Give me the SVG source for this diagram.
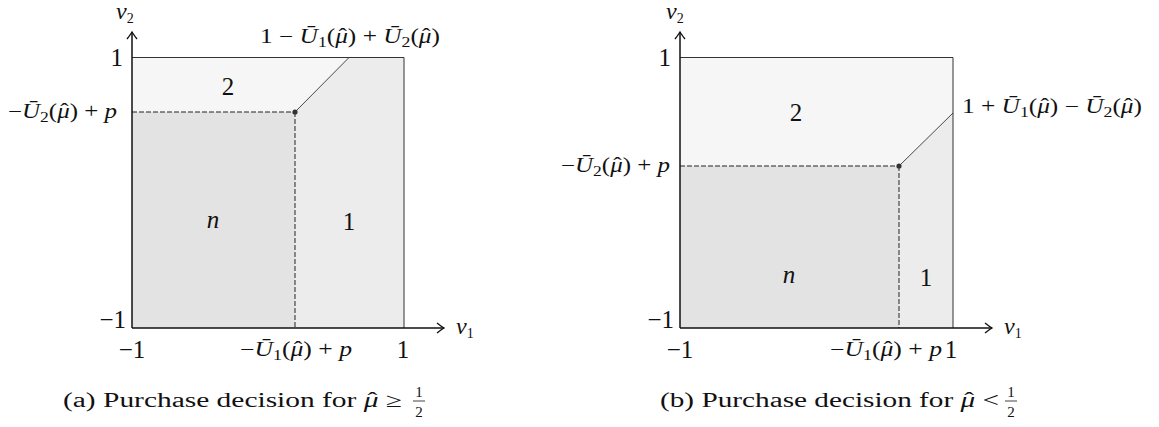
<svg xmlns="http://www.w3.org/2000/svg" width="1159" height="427" viewBox="0 0 1159 427">
<style>
.t{font-family:"Liberation Serif","DejaVu Serif",serif;fill:#111}
.i{font-style:italic}
.big{font-size:25px}
.nu{font-size:24px}
.f{font-size:20px}
.cap{font-size:20px}
.fr{font-size:15px}
.sub{font-size:14px;font-style:normal}
.axis{stroke:#111;stroke-width:1.5;fill:none}
.edge{stroke:#333;stroke-width:1;fill:none}
.dash{stroke:#222;stroke-width:1;stroke-dasharray:5 2;fill:none}
.diag{stroke:#333;stroke-width:0.9;fill:none}
.rn{fill:#e3e3e3}
.r1{fill:#ececec}
.r2{fill:#f6f6f6}
.dot{fill:#333}
</style>
<defs>
<marker id="arr" viewBox="-10 -7 12 14" markerWidth="12" markerHeight="14" refX="0" refY="0" orient="auto" markerUnits="userSpaceOnUse">
<path d="M-7,-5 Q-2,-1.2 0,0 Q-2,1.2 -7,5" fill="none" stroke="#111" stroke-width="1.4"/>
</marker>
</defs>

<!-- Plot (a) -->
<g id="plotA">
<g id="a-region-n"><rect class="rn" x="132" y="112" width="163" height="216"/><text class="t i big" x="213" y="228" text-anchor="middle">n</text></g>
<g id="a-region-1"><polygon class="r1" points="295,328 295,112 349,57.5 404,57.5 404,328"/><text class="t big" x="349" y="230" text-anchor="middle">1</text></g>
<g id="a-region-2"><polygon class="r2" points="132,57.5 349,57.5 295,112 132,112"/><text class="t big" x="228" y="95" text-anchor="middle">2</text></g>
<g id="a-connectors">
<line class="edge" x1="132" y1="57.5" x2="404" y2="57.5"/>
<line class="edge" x1="404" y1="57.5" x2="404" y2="328"/>
<line class="dash" x1="132" y1="112" x2="295" y2="112"/>
<line class="dash" x1="295" y1="112" x2="295" y2="328"/>
<line class="diag" x1="295" y1="112" x2="349" y2="57.5"/>
<line class="axis" x1="132" y1="328" x2="132" y2="32" marker-end="url(#arr)"/>
<line class="axis" x1="132" y1="328" x2="444" y2="328" marker-end="url(#arr)"/>
</g>
<g id="a-point"><circle class="dot" cx="295" cy="112" r="2.6"/></g>
<g id="a-labels">
<text class="t i nu" x="116" y="19">ν<tspan class="sub" dy="4">2</tspan></text>
<text class="t i nu" x="456" y="334">ν<tspan class="sub" dy="4">1</tspan></text>
<text class="t big" x="123" y="66" text-anchor="end">1</text>
<text class="t big" x="126" y="328" text-anchor="end">−1</text>
<text class="t big" x="132" y="358" text-anchor="middle">−1</text>
<text class="t big" x="403" y="358" text-anchor="middle">1</text>
<text class="t f" x="8" y="118" textLength="109" lengthAdjust="spacingAndGlyphs">−<tspan class="i">Ū</tspan><tspan class="sub" dy="4">2</tspan><tspan dy="-4">(</tspan><tspan class="i">μ</tspan><tspan dx="-7.5">ˆ</tspan><tspan dx="0.8">) + </tspan><tspan class="i">p</tspan></text>
<text class="t f" x="240" y="356" textLength="112" lengthAdjust="spacingAndGlyphs">−<tspan class="i">Ū</tspan><tspan class="sub" dy="4">1</tspan><tspan dy="-4">(</tspan><tspan class="i">μ</tspan><tspan dx="-7.5">ˆ</tspan><tspan dx="0.8">) + </tspan><tspan class="i">p</tspan></text>
<text class="t f" x="260" y="43" textLength="180" lengthAdjust="spacingAndGlyphs">1 − <tspan class="i">Ū</tspan><tspan class="sub" dy="4">1</tspan><tspan dy="-4">(</tspan><tspan class="i">μ</tspan><tspan dx="-7.5">ˆ</tspan><tspan dx="0.8">) + </tspan><tspan class="i">Ū</tspan><tspan class="sub" dy="4">2</tspan><tspan dy="-4">(</tspan><tspan class="i">μ</tspan><tspan dx="-7.5">ˆ</tspan><tspan dx="0.8">)</tspan></text>
</g>
<g id="a-caption">
<text class="t cap" x="63" y="407" textLength="339" lengthAdjust="spacingAndGlyphs">(a) Purchase decision for <tspan class="i">μ</tspan><tspan dx="-7.5">ˆ</tspan><tspan dx="0.8"> ≥</tspan></text>
<text class="t fr" x="419" y="397" text-anchor="middle">1</text>
<line x1="413" y1="401" x2="425" y2="401" stroke="#111" stroke-width="0.8"/>
<text class="t fr" x="419" y="417" text-anchor="middle">2</text>
</g>
</g>

<!-- Plot (b) -->
<g id="plotB">
<g id="b-region-n"><rect class="rn" x="680" y="166" width="219" height="162"/><text class="t i big" x="789" y="283" text-anchor="middle">n</text></g>
<g id="b-region-1"><polygon class="r1" points="899,328 899,166 953,113 953,328"/><text class="t big" x="926" y="286" text-anchor="middle">1</text></g>
<g id="b-region-2"><polygon class="r2" points="680,57.5 953,57.5 953,113 899,166 680,166"/><text class="t big" x="796" y="121" text-anchor="middle">2</text></g>
<g id="b-connectors">
<line class="edge" x1="680" y1="57.5" x2="953" y2="57.5"/>
<line class="edge" x1="953" y1="57.5" x2="953" y2="328"/>
<line class="dash" x1="680" y1="166" x2="899" y2="166"/>
<line class="dash" x1="899" y1="166" x2="899" y2="328"/>
<line class="diag" x1="899" y1="166" x2="953" y2="113"/>
<line class="axis" x1="680" y1="328" x2="680" y2="32" marker-end="url(#arr)"/>
<line class="axis" x1="680" y1="328" x2="992" y2="328" marker-end="url(#arr)"/>
</g>
<g id="b-point"><circle class="dot" cx="899" cy="166" r="2.6"/></g>
<g id="b-labels">
<text class="t i nu" x="666" y="19">ν<tspan class="sub" dy="4">2</tspan></text>
<text class="t i nu" x="1004" y="334">ν<tspan class="sub" dy="4">1</tspan></text>
<text class="t big" x="671" y="66" text-anchor="end">1</text>
<text class="t big" x="674" y="328" text-anchor="end">−1</text>
<text class="t big" x="680" y="358" text-anchor="middle">−1</text>
<text class="t big" x="951" y="358" text-anchor="middle">1</text>
<text class="t f" x="561" y="172" textLength="109" lengthAdjust="spacingAndGlyphs">−<tspan class="i">Ū</tspan><tspan class="sub" dy="4">2</tspan><tspan dy="-4">(</tspan><tspan class="i">μ</tspan><tspan dx="-7.5">ˆ</tspan><tspan dx="0.8">) + </tspan><tspan class="i">p</tspan></text>
<text class="t f" x="830" y="356" textLength="112" lengthAdjust="spacingAndGlyphs">−<tspan class="i">Ū</tspan><tspan class="sub" dy="4">1</tspan><tspan dy="-4">(</tspan><tspan class="i">μ</tspan><tspan dx="-7.5">ˆ</tspan><tspan dx="0.8">) + </tspan><tspan class="i">p</tspan></text>
<text class="t f" x="962" y="113" textLength="180" lengthAdjust="spacingAndGlyphs">1 + <tspan class="i">Ū</tspan><tspan class="sub" dy="4">1</tspan><tspan dy="-4">(</tspan><tspan class="i">μ</tspan><tspan dx="-7.5">ˆ</tspan><tspan dx="0.8">) − </tspan><tspan class="i">Ū</tspan><tspan class="sub" dy="4">2</tspan><tspan dy="-4">(</tspan><tspan class="i">μ</tspan><tspan dx="-7.5">ˆ</tspan><tspan dx="0.8">)</tspan></text>
</g>
<g id="b-caption">
<text class="t cap" x="660" y="407" textLength="339" lengthAdjust="spacingAndGlyphs">(b) Purchase decision for <tspan class="i">μ</tspan><tspan dx="-7.5">ˆ</tspan><tspan dx="0.8"> &lt;</tspan></text>
<text class="t fr" x="1011" y="397" text-anchor="middle">1</text>
<line x1="1005" y1="401" x2="1017" y2="401" stroke="#111" stroke-width="0.8"/>
<text class="t fr" x="1011" y="417" text-anchor="middle">2</text>
</g>
</g>
</svg>
